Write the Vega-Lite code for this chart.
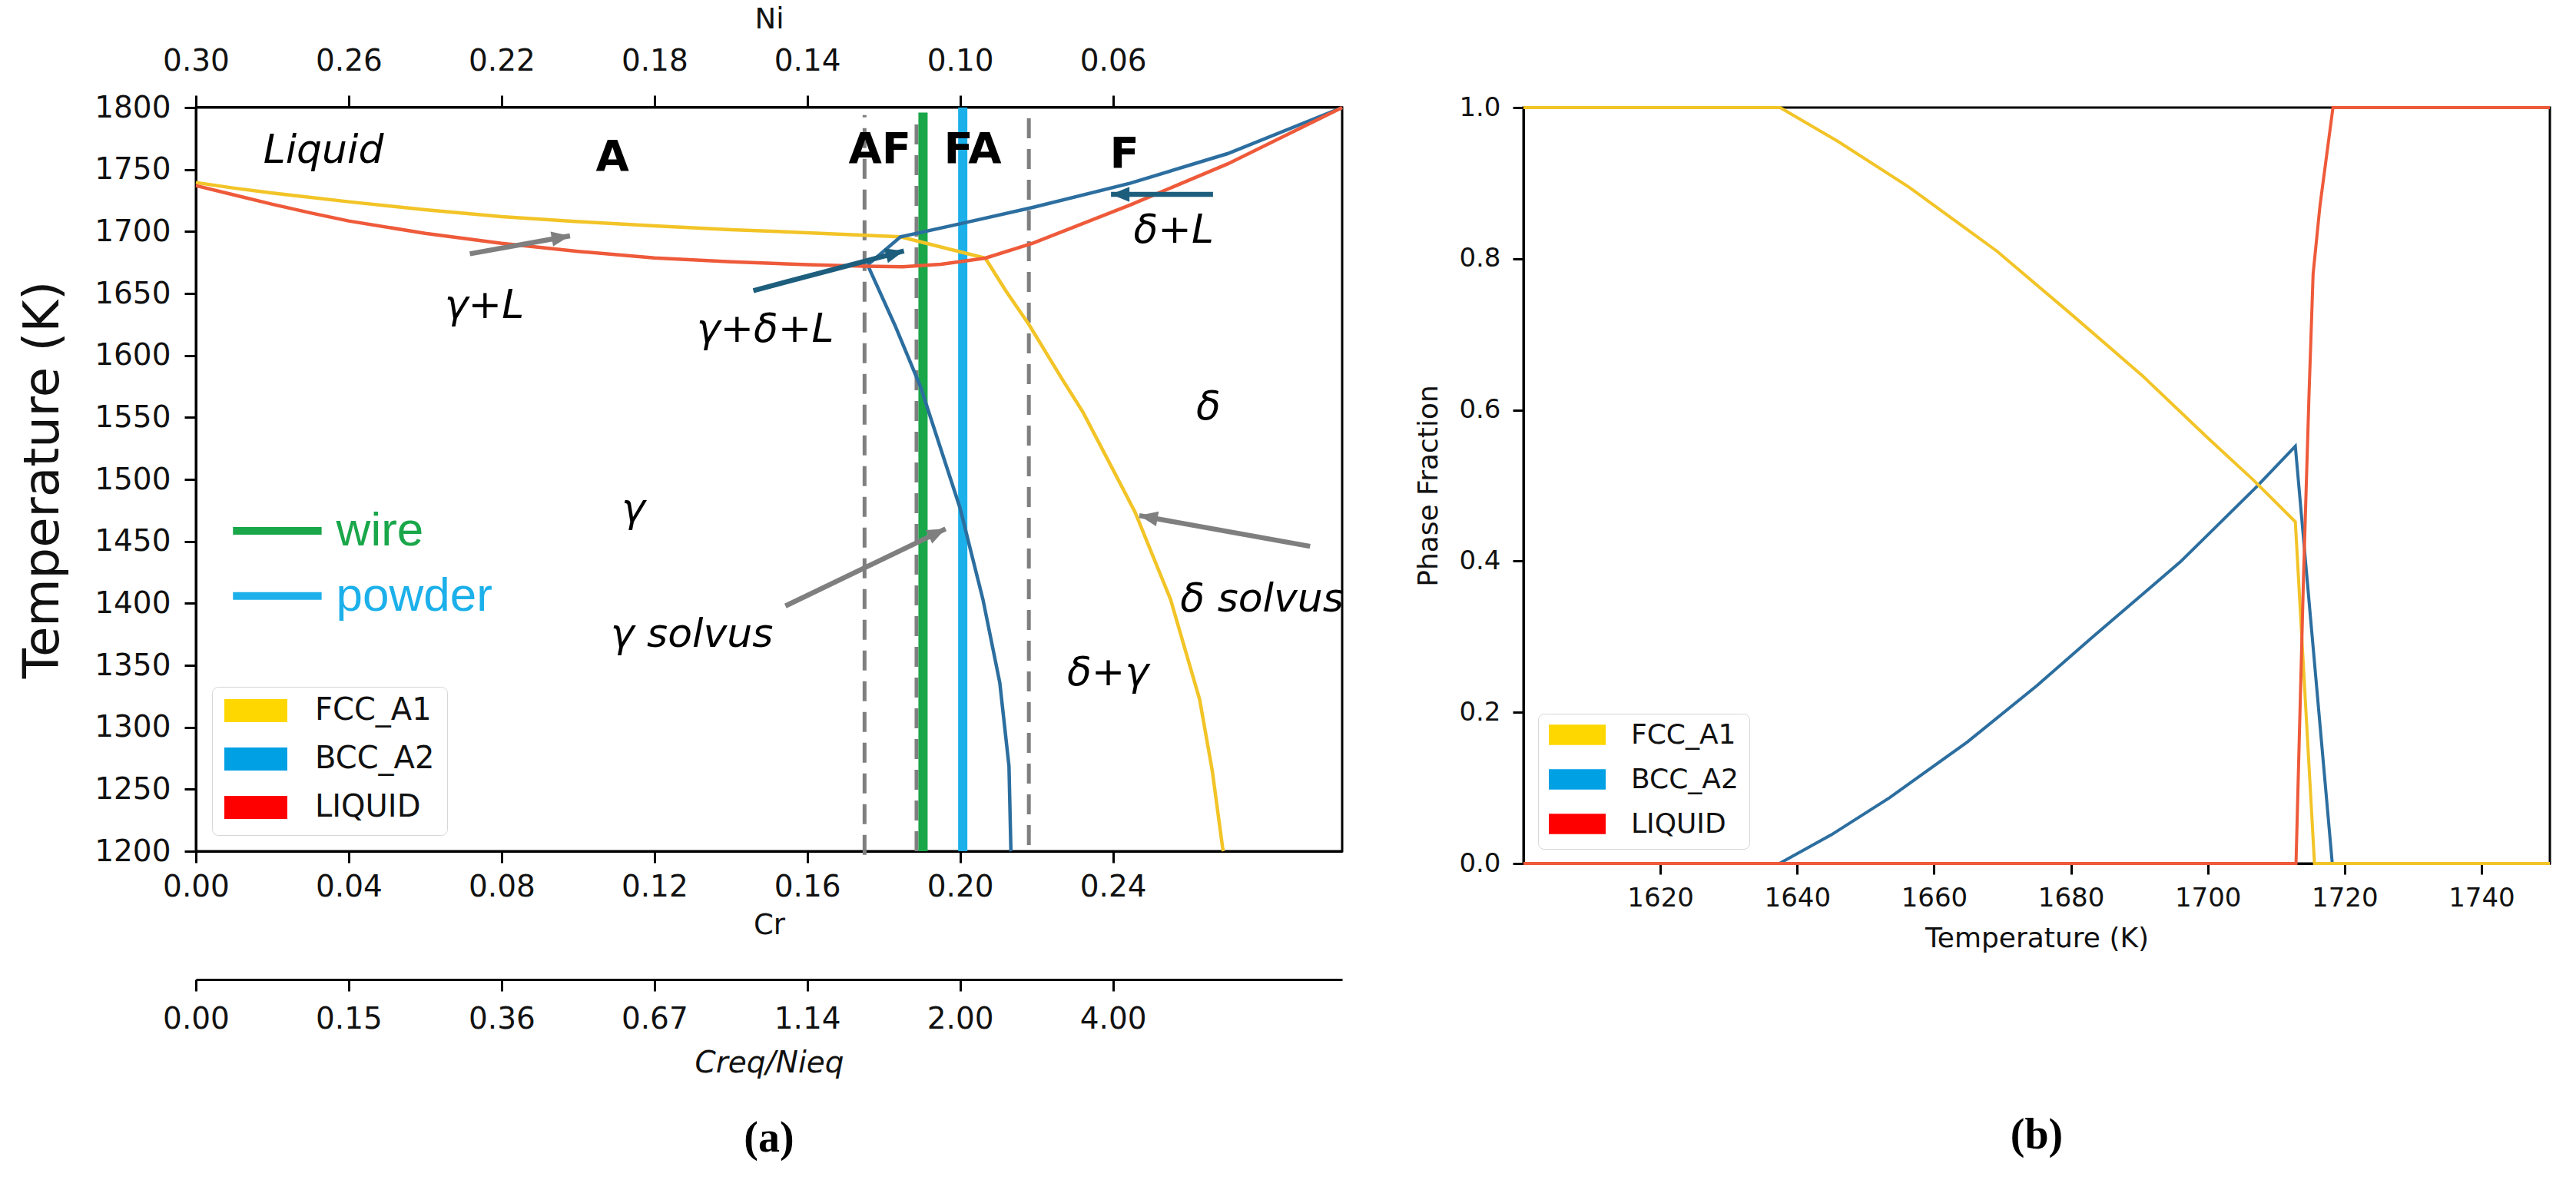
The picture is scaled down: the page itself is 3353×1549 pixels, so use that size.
{
  "$schema": "https://vega.github.io/schema/vega-lite/v6.json",
  "background": "white",
  "padding": {"left": 23, "top": 6, "right": 5, "bottom": 5},
  "config": {
    "view": {"stroke": "black", "strokeWidth": 3},
    "font": "DejaVu Sans",
    "axis": {
      "grid": false,
      "domainColor": "black",
      "domainWidth": 3,
      "tickColor": "black",
      "tickWidth": 3,
      "labelColor": "#111111",
      "titleColor": "#111111",
      "labelFont": "DejaVu Sans",
      "titleFont": "DejaVu Sans",
      "titleFontWeight": "normal",
      "labelFlush": false,
      "labelOverlap": false
    }
  },
  "datasets": {
    "diagram": [
      {"phase": "FCC_A1", "curve": "fcc", "cr": 0.0, "t": 1739.5},
      {"phase": "FCC_A1", "curve": "fcc", "cr": 0.01, "t": 1735},
      {"phase": "FCC_A1", "curve": "fcc", "cr": 0.02, "t": 1731},
      {"phase": "FCC_A1", "curve": "fcc", "cr": 0.04, "t": 1724},
      {"phase": "FCC_A1", "curve": "fcc", "cr": 0.06, "t": 1717.5},
      {"phase": "FCC_A1", "curve": "fcc", "cr": 0.08, "t": 1712},
      {"phase": "FCC_A1", "curve": "fcc", "cr": 0.10, "t": 1708},
      {"phase": "FCC_A1", "curve": "fcc", "cr": 0.12, "t": 1704.5},
      {"phase": "FCC_A1", "curve": "fcc", "cr": 0.14, "t": 1701.5},
      {"phase": "FCC_A1", "curve": "fcc", "cr": 0.16, "t": 1699},
      {"phase": "FCC_A1", "curve": "fcc", "cr": 0.175, "t": 1697},
      {"phase": "FCC_A1", "curve": "fcc", "cr": 0.1844, "t": 1695.7},
      {"phase": "FCC_A1", "curve": "fcc", "cr": 0.2066, "t": 1678.5},
      {"phase": "FCC_A1", "curve": "fcc", "cr": 0.212, "t": 1652},
      {"phase": "FCC_A1", "curve": "fcc", "cr": 0.218, "t": 1625},
      {"phase": "FCC_A1", "curve": "fcc", "cr": 0.2267, "t": 1581},
      {"phase": "FCC_A1", "curve": "fcc", "cr": 0.2322, "t": 1554},
      {"phase": "FCC_A1", "curve": "fcc", "cr": 0.24, "t": 1508},
      {"phase": "FCC_A1", "curve": "fcc", "cr": 0.2458, "t": 1473.6},
      {"phase": "FCC_A1", "curve": "fcc", "cr": 0.2551, "t": 1403},
      {"phase": "FCC_A1", "curve": "fcc", "cr": 0.2627, "t": 1322.4},
      {"phase": "FCC_A1", "curve": "fcc", "cr": 0.266, "t": 1265},
      {"phase": "FCC_A1", "curve": "fcc", "cr": 0.2687, "t": 1203},
      {"phase": "FCC_A1", "curve": "fcc", "cr": 0.2689, "t": 1200},
      {"phase": "BCC_A2", "curve": "bcc_liq", "cr": 0.1758, "t": 1673},
      {"phase": "BCC_A2", "curve": "bcc_liq", "cr": 0.1844, "t": 1695.7},
      {"phase": "BCC_A2", "curve": "bcc_liq", "cr": 0.1997, "t": 1706},
      {"phase": "BCC_A2", "curve": "bcc_liq", "cr": 0.219, "t": 1719.4},
      {"phase": "BCC_A2", "curve": "bcc_liq", "cr": 0.2446, "t": 1739},
      {"phase": "BCC_A2", "curve": "bcc_liq", "cr": 0.27, "t": 1762.8},
      {"phase": "BCC_A2", "curve": "bcc_liq", "cr": 0.3, "t": 1800},
      {"phase": "BCC_A2", "curve": "bcc_solvus", "cr": 0.1758, "t": 1673},
      {"phase": "BCC_A2", "curve": "bcc_solvus", "cr": 0.183, "t": 1624},
      {"phase": "BCC_A2", "curve": "bcc_solvus", "cr": 0.1897, "t": 1574.3},
      {"phase": "BCC_A2", "curve": "bcc_solvus", "cr": 0.2, "t": 1476.8},
      {"phase": "BCC_A2", "curve": "bcc_solvus", "cr": 0.206, "t": 1402.9},
      {"phase": "BCC_A2", "curve": "bcc_solvus", "cr": 0.2104, "t": 1335.8},
      {"phase": "BCC_A2", "curve": "bcc_solvus", "cr": 0.2128, "t": 1268.6},
      {"phase": "BCC_A2", "curve": "bcc_solvus", "cr": 0.2133, "t": 1201},
      {"phase": "BCC_A2", "curve": "bcc_solvus", "cr": 0.2134, "t": 1200},
      {"phase": "LIQUID", "curve": "liq", "cr": 0.0, "t": 1737},
      {"phase": "LIQUID", "curve": "liq", "cr": 0.01, "t": 1729.5},
      {"phase": "LIQUID", "curve": "liq", "cr": 0.02, "t": 1722},
      {"phase": "LIQUID", "curve": "liq", "cr": 0.03, "t": 1715},
      {"phase": "LIQUID", "curve": "liq", "cr": 0.04, "t": 1708.5},
      {"phase": "LIQUID", "curve": "liq", "cr": 0.06, "t": 1698.5},
      {"phase": "LIQUID", "curve": "liq", "cr": 0.08, "t": 1690.5},
      {"phase": "LIQUID", "curve": "liq", "cr": 0.10, "t": 1684},
      {"phase": "LIQUID", "curve": "liq", "cr": 0.12, "t": 1678.7},
      {"phase": "LIQUID", "curve": "liq", "cr": 0.14, "t": 1675.5},
      {"phase": "LIQUID", "curve": "liq", "cr": 0.16, "t": 1673.3},
      {"phase": "LIQUID", "curve": "liq", "cr": 0.175, "t": 1672},
      {"phase": "LIQUID", "curve": "liq", "cr": 0.185, "t": 1671.5},
      {"phase": "LIQUID", "curve": "liq", "cr": 0.195, "t": 1673.5},
      {"phase": "LIQUID", "curve": "liq", "cr": 0.2066, "t": 1678.5},
      {"phase": "LIQUID", "curve": "liq", "cr": 0.219, "t": 1690.5},
      {"phase": "LIQUID", "curve": "liq", "cr": 0.2446, "t": 1721.5},
      {"phase": "LIQUID", "curve": "liq", "cr": 0.27, "t": 1754.5},
      {"phase": "LIQUID", "curve": "liq", "cr": 0.3, "t": 1800}
    ],
    "boundaries": [
      {"cr": 0.175, "t_lo": 1197, "t_hi": 1794},
      {"cr": 0.1886, "t_lo": 1200, "t_hi": 1794},
      {"cr": 0.218, "t_lo": 1205, "t_hi": 1794}
    ],
    "samples": [
      {"sample": "wire", "cr": 0.1903, "t_lo": 1200, "t_hi": 1796, "key_t": 1458.5},
      {"sample": "powder", "cr": 0.2007, "t_lo": 1200, "t_hi": 1800, "key_t": 1406}
    ],
    "arrows": [
      {"label": "γ+L", "cr": 0.0717, "t": 1682, "cr2": 0.0979, "t2": 1696.5},
      {"label": "γ+δ+L", "cr": 0.1459, "t": 1652.3, "cr2": 0.1853, "t2": 1684.3},
      {"label": "δ+L", "cr": 0.2662, "t": 1730, "cr2": 0.2395, "t2": 1730},
      {"label": "γ solvus", "cr": 0.1543, "t": 1397.9, "cr2": 0.1962, "t2": 1460.1},
      {"label": "δ solvus", "cr": 0.2916, "t": 1446, "cr2": 0.2469, "t2": 1470.8}
    ],
    "labels": [
      {"text": "Liquid", "kind": "region", "cr": 0.0334, "t": 1765},
      {"text": "γ+L", "kind": "region", "cr": 0.0755, "t": 1640},
      {"text": "γ+δ+L", "kind": "region", "cr": 0.149, "t": 1621},
      {"text": "δ+L", "kind": "region", "cr": 0.2559, "t": 1701},
      {"text": "δ", "kind": "region", "cr": 0.265, "t": 1558},
      {"text": "γ", "kind": "region", "cr": 0.1145, "t": 1476},
      {"text": "γ solvus", "kind": "region", "cr": 0.1298, "t": 1375},
      {"text": "δ solvus", "kind": "region", "cr": 0.279, "t": 1403},
      {"text": "δ+γ", "kind": "region", "cr": 0.2387, "t": 1344},
      {"text": "A", "kind": "mode", "cr": 0.109, "t": 1760},
      {"text": "AF", "kind": "mode", "cr": 0.179, "t": 1766},
      {"text": "FA", "kind": "mode", "cr": 0.2033, "t": 1766},
      {"text": "F", "kind": "mode", "cr": 0.243, "t": 1762}
    ],
    "phases": [
      {"phase": "FCC_A1"},
      {"phase": "BCC_A2"},
      {"phase": "LIQUID"}
    ],
    "cr_range": [
      {"cr": 0.0},
      {"cr": 0.3}
    ],
    "ni_range": [
      {"ni": 0.3},
      {"ni": 0.0}
    ],
    "fractions": [
      {"phase": "BCC_A2", "temp": 1600, "frac": 0},
      {"phase": "BCC_A2", "temp": 1637.4, "frac": 0},
      {"phase": "BCC_A2", "temp": 1645, "frac": 0.038},
      {"phase": "BCC_A2", "temp": 1653.5, "frac": 0.087},
      {"phase": "BCC_A2", "temp": 1664.9, "frac": 0.161},
      {"phase": "BCC_A2", "temp": 1675, "frac": 0.235},
      {"phase": "BCC_A2", "temp": 1683.1, "frac": 0.299},
      {"phase": "BCC_A2", "temp": 1696, "frac": 0.399},
      {"phase": "BCC_A2", "temp": 1707, "frac": 0.497},
      {"phase": "BCC_A2", "temp": 1712.8, "frac": 0.552},
      {"phase": "BCC_A2", "temp": 1718.2, "frac": 0},
      {"phase": "BCC_A2", "temp": 1750, "frac": 0},
      {"phase": "FCC_A1", "temp": 1600, "frac": 1},
      {"phase": "FCC_A1", "temp": 1637.5, "frac": 1},
      {"phase": "FCC_A1", "temp": 1646, "frac": 0.955},
      {"phase": "FCC_A1", "temp": 1656.3, "frac": 0.895},
      {"phase": "FCC_A1", "temp": 1669.2, "frac": 0.81},
      {"phase": "FCC_A1", "temp": 1680, "frac": 0.727},
      {"phase": "FCC_A1", "temp": 1690.6, "frac": 0.644},
      {"phase": "FCC_A1", "temp": 1700, "frac": 0.563},
      {"phase": "FCC_A1", "temp": 1706.7, "frac": 0.507},
      {"phase": "FCC_A1", "temp": 1712.8, "frac": 0.452},
      {"phase": "FCC_A1", "temp": 1715.6, "frac": 0},
      {"phase": "FCC_A1", "temp": 1750, "frac": 0},
      {"phase": "LIQUID", "temp": 1600, "frac": 0},
      {"phase": "LIQUID", "temp": 1712.9, "frac": 0},
      {"phase": "LIQUID", "temp": 1714.0, "frac": 0.38},
      {"phase": "LIQUID", "temp": 1714.8, "frac": 0.62},
      {"phase": "LIQUID", "temp": 1715.4, "frac": 0.78},
      {"phase": "LIQUID", "temp": 1716.4, "frac": 0.87},
      {"phase": "LIQUID", "temp": 1718.3, "frac": 1.0},
      {"phase": "LIQUID", "temp": 1750, "frac": 1.0}
    ]
  },
  "columns": 2,
  "spacing": {"row": 0, "column": 236},
  "bounds": "flush",
  "concat": [
    {
      "width": 1492,
      "height": 1,
      "view": {"stroke": null},
      "data": {"name": "ni_range"},
      "mark": {"type": "point", "opacity": 0},
      "encoding": {
        "x": {
          "field": "ni", "type": "quantitative",
          "scale": {"domain": [0, 0.3], "reverse": true, "nice": false, "zero": false},
          "axis": {
            "orient": "top", "title": "Ni", "values": [0.3, 0.26, 0.22, 0.18, 0.14, 0.1, 0.06], "format": ".2f",
            "labelFontSize": 39, "titleFontSize": 37, "tickSize": 15, "labelPadding": 25, "titlePadding": 16
          }
        }
      }
    },
    {
      "width": 1336,
      "height": 1,
      "view": {"stroke": null},
      "data": {"name": "phases"},
      "mark": {"type": "point", "opacity": 0}
    },
    {
      "width": 1492,
      "height": 968,
      "layer": [
        {
          "data": {"name": "boundaries"},
          "mark": {"type": "rule", "color": "#7f7f7f", "strokeWidth": 5, "strokeDash": [26, 14]},
          "encoding": {
            "x": {
              "field": "cr", "type": "quantitative",
              "scale": {"domain": [0, 0.3], "nice": false, "zero": false},
              "axis": {
                "orient": "bottom", "title": "Cr", "values": [0, 0.04, 0.08, 0.12, 0.16, 0.2, 0.24], "format": ".2f",
                "labelFontSize": 39, "titleFontSize": 37, "tickSize": 15, "labelPadding": 12, "titlePadding": 12
              }
            },
            "y": {
              "field": "t_lo", "type": "quantitative",
              "scale": {"domain": [1200, 1800], "nice": false, "zero": false},
              "axis": {
                "title": "Temperature (K)", "format": "d", "values": [1200, 1250, 1300, 1350, 1400, 1450, 1500, 1550, 1600, 1650, 1700, 1750, 1800],
                "labelFontSize": 39, "titleFontSize": 64, "tickSize": 15, "labelPadding": 18, "titlePadding": 34
              }
            },
            "y2": {"field": "t_hi"}
          }
        },
        {
          "data": {"name": "samples"},
          "mark": {"type": "rule", "strokeWidth": 12},
          "encoding": {
            "x": {"field": "cr", "type": "quantitative"},
            "y": {"field": "t_lo", "type": "quantitative"},
            "y2": {"field": "t_hi"},
            "color": {
              "field": "sample", "type": "nominal", "legend": null,
              "scale": {"domain": ["wire", "powder", "γ+L", "γ+δ+L", "δ+L", "γ solvus", "δ solvus"], "range": ["#19a74a", "#1cb0ea", "#7f7f7f", "#1d5e7d", "#1d5e7d", "#7f7f7f", "#7f7f7f"]}
            }
          }
        },
        {
          "data": {"name": "diagram"},
          "mark": {"type": "line", "strokeWidth": 4.5},
          "encoding": {
            "x": {"field": "cr", "type": "quantitative"},
            "y": {"field": "t", "type": "quantitative"},
            "detail": {"field": "curve", "type": "nominal"},
            "stroke": {
              "field": "phase", "type": "nominal", "legend": null,
              "scale": {"domain": ["BCC_A2", "FCC_A1", "LIQUID"], "range": ["#2c6e9f", "#f2c427", "#ee5a3a"]}
            }
          }
        },
        {
          "data": {"name": "arrows"},
          "mark": {"type": "rule", "strokeWidth": 6.5, "strokeCap": "butt"},
          "encoding": {
            "x": {"field": "cr", "type": "quantitative"},
            "y": {"field": "t", "type": "quantitative"},
            "x2": {"field": "cr2"},
            "y2": {"field": "t2"},
            "color": {"field": "label", "type": "nominal", "legend": null}
          }
        },
        {
          "data": {"name": "arrows"},
          "transform": [
            {"calculate": "atan2((datum.cr2 - datum.cr) * 4973, (datum.t2 - datum.t) * 1.6133) * 180 / PI", "as": "heading"}
          ],
          "mark": {"type": "point", "filled": true, "opacity": 1, "shape": "M0,0L-0.65,1.6L0.65,1.6Z", "size": 900, "strokeWidth": 0},
          "encoding": {
            "x": {"field": "cr2", "type": "quantitative"},
            "y": {"field": "t2", "type": "quantitative"},
            "angle": {"field": "heading", "type": "quantitative", "scale": null},
            "color": {"field": "label", "type": "nominal", "legend": null}
          }
        },
        {
          "data": {"name": "labels"},
          "transform": [{"filter": "datum.kind == 'region'"}],
          "mark": {"type": "text", "font": "DejaVu Sans", "fontStyle": "italic", "fontSize": 52, "color": "black", "align": "center", "baseline": "middle"},
          "encoding": {
            "x": {"field": "cr", "type": "quantitative"},
            "y": {"field": "t", "type": "quantitative"},
            "text": {"field": "text"}
          }
        },
        {
          "data": {"name": "labels"},
          "transform": [{"filter": "datum.kind == 'mode'"}],
          "mark": {"type": "text", "font": "DejaVu Sans", "fontWeight": "bold", "fontSize": 56, "color": "black", "align": "center", "baseline": "middle"},
          "encoding": {
            "x": {"field": "cr", "type": "quantitative"},
            "y": {"field": "t", "type": "quantitative"},
            "text": {"field": "text"}
          }
        },
        {
          "data": {"name": "samples"},
          "mark": {"type": "rule", "strokeWidth": 10},
          "encoding": {
            "x": {"datum": 0.0097, "type": "quantitative"},
            "x2": {"datum": 0.0329},
            "y": {"field": "key_t", "type": "quantitative"},
            "color": {"field": "sample", "type": "nominal", "legend": null}
          }
        },
        {
          "data": {"name": "samples"},
          "mark": {"type": "text", "font": "Liberation Sans", "fontSize": 62, "align": "left", "baseline": "middle", "dx": 19},
          "encoding": {
            "x": {"datum": 0.0329, "type": "quantitative"},
            "y": {"field": "key_t", "type": "quantitative"},
            "text": {"field": "sample"},
            "color": {"field": "sample", "type": "nominal", "legend": null}
          }
        },
        {
          "data": {"name": "phases"},
          "mark": {"type": "point", "filled": true, "opacity": 0},
          "encoding": {
            "fill": {
              "field": "phase", "type": "nominal",
              "scale": {"domain": ["FCC_A1", "BCC_A2", "LIQUID"], "range": ["#ffd700", "#00a0e4", "#ff0000"]},
              "legend": {
                "title": null, "orient": "bottom-left", "offset": 21, "padding": 16,
                "symbolType": "M-1,-0.366H1V0.366H-1Z", "symbolSize": 6724, "symbolStrokeWidth": 0, "symbolOpacity": 1,
                "clipHeight": 30, "labelFontSize": 40, "labelFont": "DejaVu Sans", "labelColor": "#111111", "labelOffset": 36,
                "rowPadding": 23, "strokeColor": "#d6d6d6", "fillColor": "white", "cornerRadius": 8
              }
            }
          }
        }
      ]
    },
    {
      "width": 1336,
      "height": 984,
      "title": {"text": "(b)", "orient": "bottom", "anchor": "middle", "font": "Liberation Serif", "fontSize": 56, "fontWeight": "bold", "color": "black", "offset": 212},
      "layer": [
        {
          "data": {"name": "fractions"},
          "mark": {"type": "line", "strokeWidth": 4},
          "encoding": {
            "x": {
              "field": "temp", "type": "quantitative",
              "scale": {"domain": [1600, 1750], "nice": false, "zero": false},
              "axis": {
                "title": "Temperature (K)", "format": "d", "values": [1620, 1640, 1660, 1680, 1700, 1720, 1740],
                "labelFontSize": 34, "titleFontSize": 36, "tickSize": 14, "labelPadding": 14, "titlePadding": 18
              }
            },
            "y": {
              "field": "frac", "type": "quantitative",
              "scale": {"domain": [0, 1], "nice": false},
              "axis": {
                "title": "Phase Fraction", "values": [0, 0.2, 0.4, 0.6, 0.8, 1.0], "format": ".1f",
                "labelFontSize": 34, "titleFontSize": 36, "tickSize": 14, "labelPadding": 16, "titlePadding": 20
              }
            },
            "stroke": {
              "field": "phase", "type": "nominal", "legend": null,
              "scale": {"domain": ["BCC_A2", "FCC_A1", "LIQUID"], "range": ["#2c6e9f", "#f2c427", "#ee5a3a"]}
            }
          }
        },
        {
          "data": {"name": "phases"},
          "mark": {"type": "point", "filled": true, "opacity": 0},
          "encoding": {
            "fill": {
              "field": "phase", "type": "nominal",
              "scale": {"domain": ["FCC_A1", "BCC_A2", "LIQUID"], "range": ["#ffd700", "#00a0e4", "#ff0000"]},
              "legend": {
                "title": null, "orient": "bottom-left", "offset": 19, "padding": 14,
                "symbolType": "M-1,-0.358H1V0.358H-1Z", "symbolSize": 5476, "symbolStrokeWidth": 0, "symbolOpacity": 1,
                "clipHeight": 27, "labelFontSize": 36, "labelFont": "DejaVu Sans", "labelColor": "#111111", "labelOffset": 33,
                "rowPadding": 21, "strokeColor": "#d6d6d6", "fillColor": "white", "cornerRadius": 8
              }
            }
          }
        }
      ]
    },
    {
      "width": 1492,
      "height": 1,
      "view": {"stroke": null},
      "title": {"text": "(a)", "orient": "bottom", "anchor": "middle", "font": "Liberation Serif", "fontSize": 56, "fontWeight": "bold", "color": "black", "offset": 52},
      "data": {"name": "cr_range"},
      "mark": {"type": "point", "opacity": 0},
      "encoding": {
        "x": {
          "field": "cr", "type": "quantitative",
          "scale": {"domain": [0, 0.3], "nice": false, "zero": false},
          "axis": {
            "orient": "bottom", "offset": 150, "title": "Creq/Nieq", "titleFontStyle": "italic",
            "values": [0, 0.04, 0.08, 0.12, 0.16, 0.2, 0.24],
            "labelExpr": "format(datum.value / (0.3 - datum.value), '.2f')",
            "labelFontSize": 39, "titleFontSize": 39, "tickSize": 15, "labelPadding": 17, "titlePadding": 18
          }
        }
      }
    }
  ],
  "resolve": {
    "scale": {"x": "independent", "y": "independent", "stroke": "independent", "fill": "independent", "color": "independent"},
    "legend": {"fill": "independent", "stroke": "independent", "color": "independent"}
  }
}
